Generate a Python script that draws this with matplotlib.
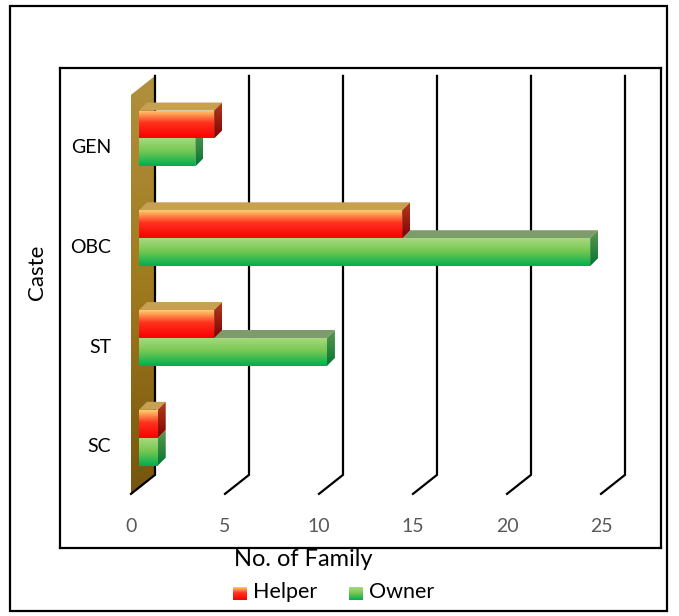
import numpy as np
import matplotlib
matplotlib.use("Agg")
import matplotlib.pyplot as plt
from matplotlib.patches import Polygon, Rectangle

# ---- data -------------------------------------------------------------
castes = ["SC", "ST", "OBC", "GEN"]
helper = [1, 4, 14, 4]
owner = [1, 10, 24, 3]
series_names = ["Helper", "Owner"]
x_ticks = [0, 5, 10, 15, 20, 25]
x_title = "No. of Family"
y_title = "Caste"

plt.rcParams["font.family"] = ["Lato", "DejaVu Sans"]

W, H = 679, 616
fig = plt.figure(figsize=(W / 100, H / 100), dpi=100)

# plot-area box (pixels) and 3-D layout
L, T, R, B = 60, 68, 661, 548
PX_UNIT = 18.8        # pixels per unit of value
PX_CAT = 99.75        # pixels per category row
X0_PX = 131           # value 0 on the front plane
C0_PX = 444           # centre of first category on the front plane

ax = fig.add_axes([L / W, 1 - B / H, (R - L) / W, (B - T) / H])
xlim = ((L - X0_PX) / PX_UNIT, (R - X0_PX) / PX_UNIT)
ylim = (-(B - C0_PX) / PX_CAT, (C0_PX - T) / PX_CAT)
ax.set_xlim(*xlim)
ax.set_ylim(*ylim)
ax.set_autoscale_on(False)
ax.set_xticks([])
ax.set_yticks([])
for s in ax.spines.values():
    s.set_linewidth(1.6)
    s.set_color("black")

DX = 24 / PX_UNIT     # depth vector of the floor, data units
DY = 19 / PX_CAT
BX = 8 / PX_UNIT      # depth vector of one bar, data units
BY = 8 / PX_CAT
F1 = 0.33             # bars start this far back from the front plane
BAR_H = 0.28          # bar thickness (category units)
n = len(castes)
y_lo, y_hi = -0.5, n - 0.5


def rgb(*c):
    return np.array(c, float) / 255.0


def grad_img(stops, n=64, horizontal=False):
    pos = np.array([p for p, _ in stops])
    cols = np.array([c for _, c in stops])
    t = np.linspace(0, 1, n)
    img = np.stack([np.interp(t, pos, cols[:, k]) for k in range(3)], axis=-1)
    return img[None, :, :] if horizontal else img[:, None, :]


def grad_poly(verts, stops, z, horizontal=False):
    verts = np.asarray(verts)
    patch = Polygon(verts, closed=True, facecolor="none", edgecolor="none", zorder=z)
    ax.add_patch(patch)
    x0, y0 = verts.min(axis=0)
    x1, y1 = verts.max(axis=0)
    im = ax.imshow(grad_img(stops, horizontal=horizontal), extent=[x0, x1, y0, y1],
                   origin="upper", aspect="auto", interpolation="bilinear", zorder=z)
    im.set_clip_path(patch)


# left wall
wall = [(0, y_lo), (DX, y_lo + DY), (DX, y_hi + DY), (0, y_hi)]
grad_poly(wall, [(0, rgb(176, 144, 62)), (0.5, rgb(160, 122, 30)), (1, rgb(118, 86, 14))], 1)

# gridlines: back wall verticals + floor diagonals
for t in x_ticks:
    ax.plot([t + DX, t + DX, t], [y_hi + DY, y_lo + DY, y_lo],
            color="black", lw=1.6, solid_joinstyle="miter", zorder=2)

styles = {
    "Helper": dict(front=[(0, rgb(255, 206, 110)), (0.45, rgb(255, 50, 30)), (1, rgb(248, 0, 0))],
                   side=[(0, rgb(178, 60, 30)), (1, rgb(130, 0, 0))],
                   top=rgb(200, 160, 82)),
    "Owner": dict(front=[(0, rgb(168, 216, 128)), (0.45, rgb(120, 200, 82)), (1, rgb(0, 174, 80))],
                  side=[(0, rgb(95, 150, 80)), (1, rgb(0, 118, 50))],
                  top=rgb(126, 156, 106)),
}

# bars: owner sits below the category centre, helper above it
z = 3
for name, vals, offset in (("Owner", owner, -BAR_H), ("Helper", helper, 0.0)):
    st = styles[name]
    for i, v in enumerate(vals):
        xa = F1 * DX
        xb = v + F1 * DX
        yb = i + offset + F1 * DY
        yt = yb + BAR_H
        top = [(xa, yt), (xb, yt), (xb + BX, yt + BY), (xa + BX, yt + BY)]
        ax.add_patch(Polygon(top, closed=True, facecolor=st["top"], edgecolor="none", zorder=z))
        side = [(xb, yb), (xb + BX, yb + BY), (xb + BX, yt + BY), (xb, yt)]
        grad_poly(side, st["side"], z)
        front = [(xa, yb), (xb, yb), (xb, yt), (xa, yt)]
        grad_poly(front, st["front"], z + 0.1)
    z += 1

# tick labels on the front edge of the floor
for t in x_ticks:
    ax.text(t, -(526 - C0_PX) / PX_CAT, str(t), ha="center", va="center",
            fontsize=14, color="#595959")

# category labels
for i, c in enumerate(castes):
    ax.text((111 - X0_PX) / PX_UNIT, i - 0.03, c, ha="right", va="center",
            fontsize=14, color="black")

# axis titles
fig.text(303 / W, 1 - 560 / H, x_title, ha="center", va="center", fontsize=17, color="black")
fig.text(37 / W, 1 - 272 / H, y_title, ha="center", va="center", rotation=90,
         fontsize=16, color="black")

# legend
for name, sx in zip(series_names, (233, 349)):
    lax = fig.add_axes([sx / W, 1 - 600 / H, 14 / W, 13 / H])
    lax.imshow(grad_img(styles[name]["front"]), aspect="auto", interpolation="bilinear")
    lax.axis("off")
    fig.text((sx + 20) / W, 1 - 592 / H, name, ha="left", va="center",
             fontsize=15.5, color="black")

# outer frame
fig.patches.append(Rectangle((10 / W, 1 - 611 / H), 657 / W, 605 / H,
                             transform=fig.transFigure, fill=False,
                             edgecolor="black", lw=1.6))

fig.savefig("out.png", dpi=100)
